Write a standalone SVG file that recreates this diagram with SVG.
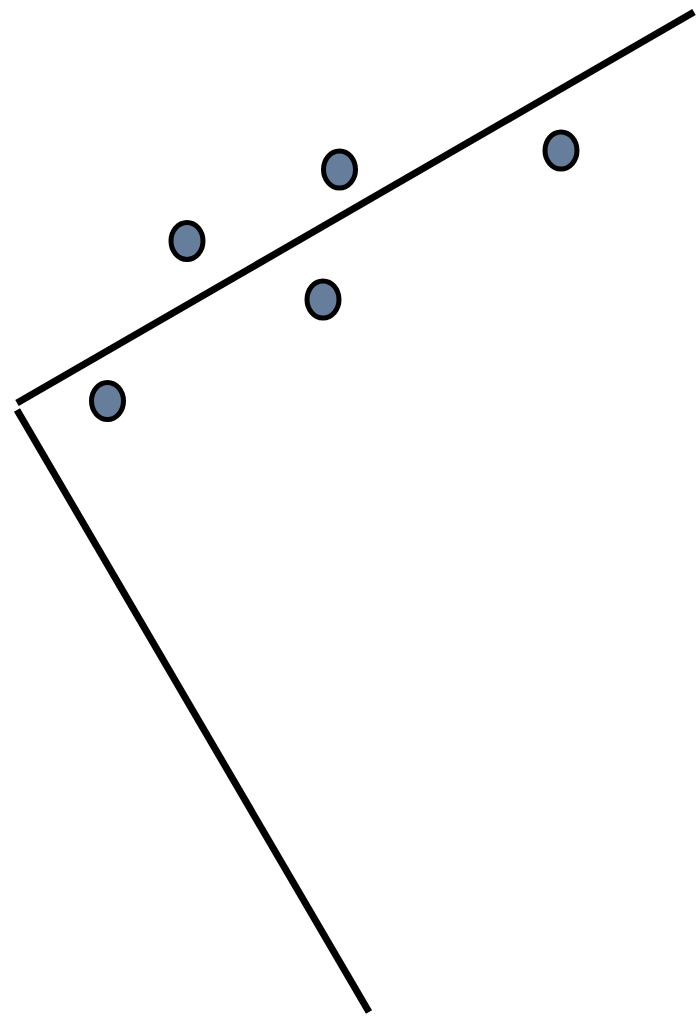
<svg xmlns="http://www.w3.org/2000/svg" width="697" height="1018" viewBox="0 0 697 1018">
<style>
.ln{stroke:#000;stroke-width:7;fill:none;stroke-linecap:butt}
.dot{fill:#667d9c;stroke:#000;stroke-width:5}
</style>
<rect width="697" height="1018" fill="#fff"/>
<g id="connectors">
<line class="ln" x1="17" y1="403" x2="694" y2="12"/>
<line class="ln" x1="17" y1="410" x2="369" y2="1012"/>
</g>
<g id="dot1"><ellipse class="dot" cx="107.5" cy="401" rx="16" ry="18.5"/></g>
<g id="dot2"><ellipse class="dot" cx="187" cy="241" rx="16" ry="18.5"/></g>
<g id="dot3"><ellipse class="dot" cx="339.5" cy="169.5" rx="16" ry="18.5"/></g>
<g id="dot4"><ellipse class="dot" cx="323" cy="299.5" rx="16" ry="18.5"/></g>
<g id="dot5"><ellipse class="dot" cx="561" cy="150.5" rx="16" ry="18.5"/></g>
</svg>
